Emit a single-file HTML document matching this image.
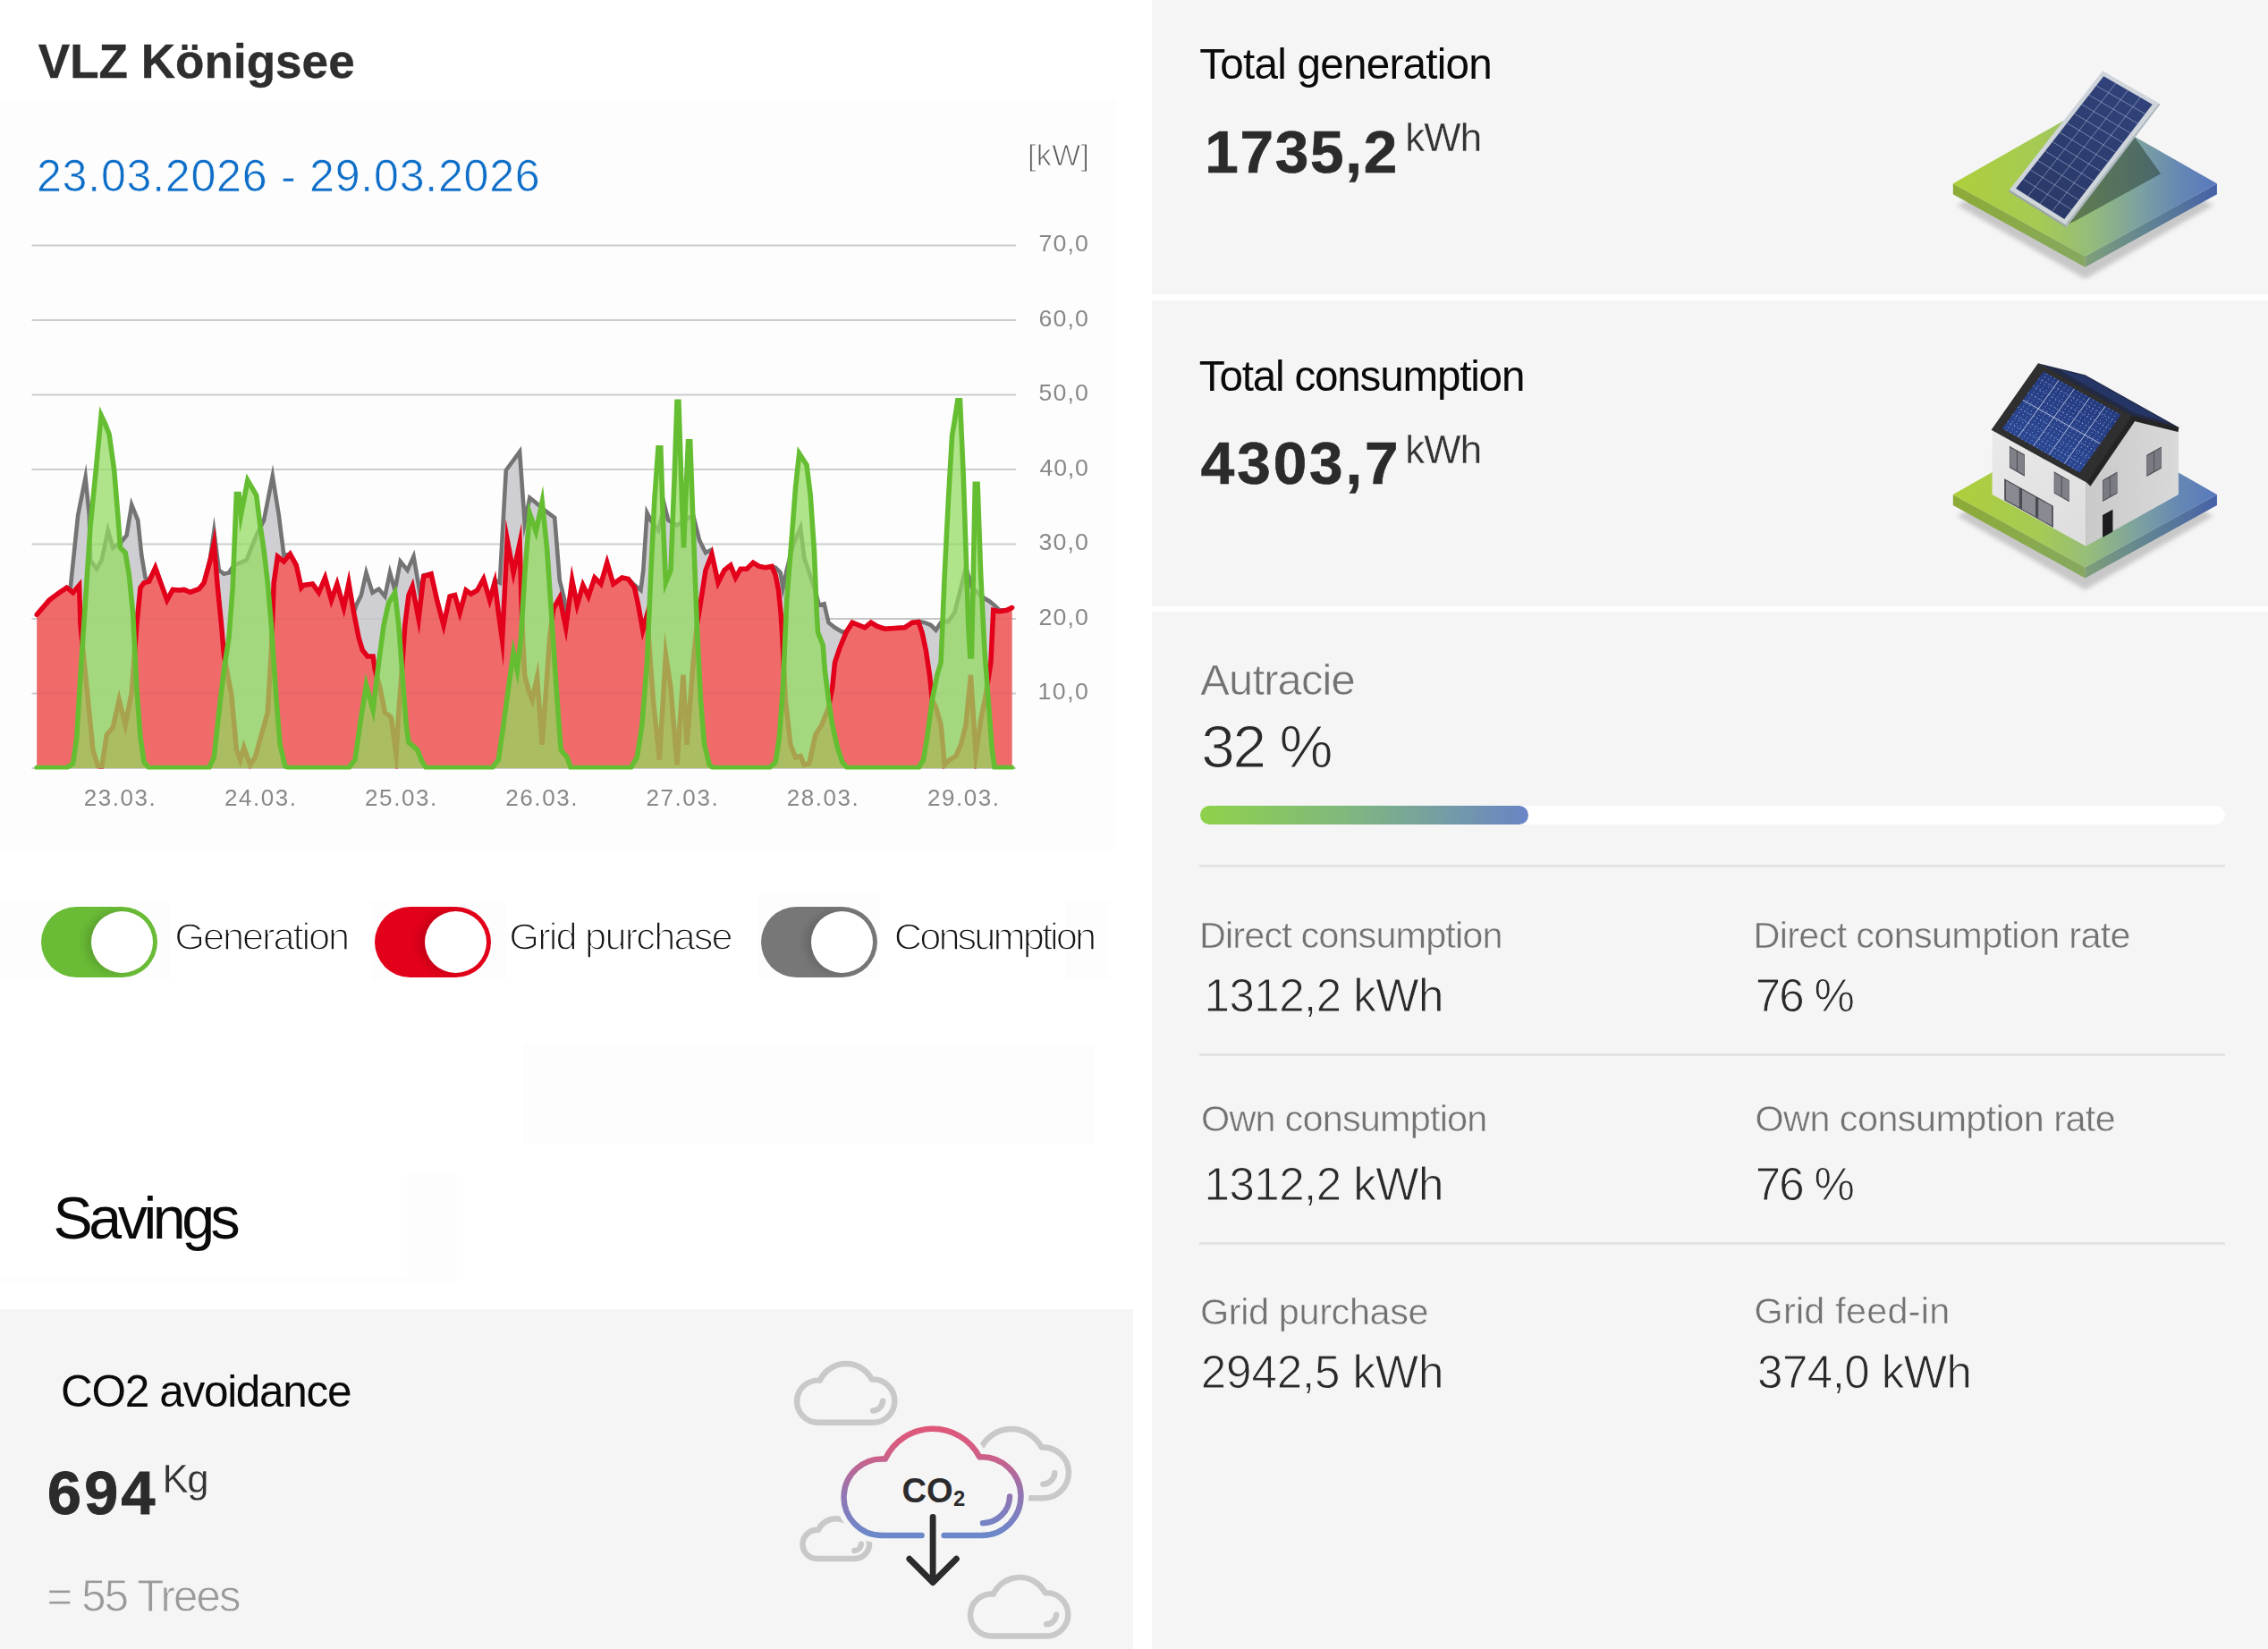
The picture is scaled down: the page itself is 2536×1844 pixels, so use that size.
<!DOCTYPE html>
<html lang="en"><head><meta charset="utf-8"><title>VLZ Königsee</title>
<style>
html,body{margin:0;padding:0}
body{width:2536px;height:1844px;position:relative;overflow:hidden;background:#fff;
 font-family:"Liberation Sans",sans-serif}
.abs{position:absolute}
.bg{position:absolute}
.t{position:absolute;white-space:nowrap;line-height:1;margin:0}
.tg{position:absolute;top:1013.5px;width:130px;height:79px;border-radius:40px}
.kn{position:absolute;right:5px;top:5px;width:69px;height:69px;border-radius:50%;background:#fff;box-shadow:-7px 0 9px rgba(0,0,0,.13)}
.tg{overflow:hidden}
.hr{position:absolute;left:1341px;width:1147px;height:3px;background:#e3e3e3}
</style></head>
<body>
<div class="bg" style="left:0;top:112px;width:1248px;height:838px;background:#fdfdfd"></div>
<div class="bg" style="left:1288px;top:0;width:1248px;height:329px;background:#f5f5f5"></div>
<div class="bg" style="left:1288px;top:336px;width:1248px;height:342px;background:#f5f5f5"></div>
<div class="bg" style="left:1288px;top:684px;width:1248px;height:1160px;background:#f5f5f5"></div>
<div class="bg" style="left:0;top:1464px;width:1267px;height:380px;background:#f5f5f5"></div>
<div class="bg" style="left:0px;top:1007px;width:190px;height:89px;background:#fdfdfd"></div><div class="bg" style="left:416px;top:1007px;width:150px;height:89px;background:#fdfdfd"></div><div class="bg" style="left:848px;top:1000px;width:136px;height:96px;background:#fdfdfd"></div><div class="bg" style="left:1192px;top:1007px;width:48px;height:89px;background:#fdfdfd"></div><div class="bg" style="left:584px;top:1166px;width:640px;height:114px;background:#fdfdfd"></div><div class="bg" style="left:455px;top:1313px;width:56px;height:124px;background:#fdfdfd"></div><div class="bg" style="left:0px;top:1425px;width:511px;height:12px;background:#fdfdfd"></div>
<svg class="abs" style="left:0;top:0" width="1268" height="950" viewBox="0 0 1268 950">
<g stroke="#cdcdcd" stroke-width="2"><line x1="35.5" x2="1136" y1="775.5" y2="775.5"/><line x1="35.5" x2="1136" y1="692.0" y2="692.0"/><line x1="35.5" x2="1136" y1="608.5" y2="608.5"/><line x1="35.5" x2="1136" y1="525.0" y2="525.0"/><line x1="35.5" x2="1136" y1="441.5" y2="441.5"/><line x1="35.5" x2="1136" y1="358.0" y2="358.0"/><line x1="35.5" x2="1136" y1="274.5" y2="274.5"/><line x1="35.5" x2="1136" y1="859" y2="859"/></g>
<defs><clipPath id="cc"><rect x="0" y="0" width="1268" height="860.4"/></clipPath><clipPath id="cr"><rect x="0" y="0" width="1268" height="859.4"/></clipPath></defs>
<g stroke-linejoin="miter" stroke-miterlimit="14" stroke-linecap="round" clip-path="url(#cc)">
<path d="M41.2 687.3 L55.1 671.1 L66.3 662.7 L74.6 657.2 L78.8 657.2 L87.2 576.2 L95.6 533.8 L99.8 576.2 L101.1 626.5 L108.1 636.2 L113.7 626.5 L120.7 593.0 L126.3 612.5 L136.0 605.5 L141.6 598.6 L147.2 564.5 L154.2 581.8 L158.3 620.9 L162.5 646.0 L166.7 648.8 L173.7 634.8 L180.7 654.4 L186.8 671.1 L193.2 659.4 L200.2 660.0 L205.8 659.4 L212.8 662.2 L222.5 658.6 L228.1 651.6 L235.1 623.7 L239.3 594.4 L244.8 637.6 L250.4 641.8 L256.0 640.4 L261.6 632.1 L275.5 626.5 L286.7 598.6 L295.1 581.8 L304.8 532.4 L311.8 576.2 L317.4 620.9 L324.4 619.5 L331.3 632.1 L336.9 657.2 L339.7 654.4 L344.0 653.8 L349.5 653.0 L356.5 662.7 L363.5 646.0 L370.5 671.1 L376.9 653.0 L384.4 679.5 L390.0 652.1 L395.6 685.1 L398.4 676.7 L403.9 665.5 L409.5 640.4 L416.5 662.7 L423.5 658.6 L430.4 666.9 L436.0 640.4 L441.6 660.0 L447.7 627.9 L455.6 637.6 L462.5 622.3 L469.5 662.7 L473.7 643.2 L482.1 641.8 L489.0 672.5 L496.0 699.0 L503.0 666.9 L508.6 665.5 L514.2 685.1 L521.1 660.0 L526.7 664.1 L533.7 660.0 L540.7 647.4 L547.6 671.1 L553.2 648.8 L558.8 651.6 L565.8 526.0 L581.1 505.1 L586.7 584.6 L592.3 556.7 L599.3 562.3 L609.0 570.7 L620.2 579.0 L625.8 648.8 L631.3 671.1 L632.7 701.8 L639.7 648.8 L645.3 676.7 L651.8 654.4 L657.9 666.9 L664.9 646.0 L671.9 653.0 L678.8 629.3 L685.8 653.0 L695.6 646.0 L702.5 647.4 L709.5 654.4 L716.5 660.0 L719.3 637.6 L723.5 573.5 L727.7 581.8 L736.0 593.0 L743.0 565.1 L747.2 581.8 L757.0 587.4 L775.1 576.2 L782.1 604.2 L789.0 618.1 L794.6 615.3 L796.0 619.8 L803.0 651.6 L810.0 637.6 L816.9 632.1 L822.5 646.0 L828.1 636.2 L835.1 636.2 L842.1 629.3 L849.0 633.4 L856.0 634.8 L863.0 633.4 L867.2 634.8 L872.7 640.4 L875.5 657.2 L879.7 637.6 L886.7 609.7 L895.1 590.2 L899.3 623.7 L904.8 640.4 L910.4 657.2 L916.0 676.7 L921.6 675.3 L926.5 696.2 L933.5 701.8 L941.9 706.8 L946.0 706.0 L953.0 696.2 L960.0 699.0 L967.0 701.8 L973.9 696.2 L980.9 700.4 L989.3 703.2 L1000.4 702.4 L1011.6 701.8 L1020.0 696.2 L1027.0 694.8 L1033.9 696.2 L1040.9 699.0 L1046.5 704.6 L1052.1 696.2 L1060.4 694.8 L1067.4 685.1 L1074.4 657.2 L1080.0 634.8 L1086.9 657.2 L1099.5 668.3 L1106.5 672.5 L1113.4 678.1 L1117.6 682.3 L1126.0 682.3 L1131.6 679.5 L1131.6 859.0 L41.2 859.0 Z" fill="#cfcfd3" stroke="none"/>
<path d="M41.2 687.3 L55.1 671.1 L66.3 662.7 L74.6 657.2 L78.8 657.2 L87.2 576.2 L95.6 533.8 L99.8 576.2 L101.1 626.5 L108.1 636.2 L113.7 626.5 L120.7 593.0 L126.3 612.5 L136.0 605.5 L141.6 598.6 L147.2 564.5 L154.2 581.8 L158.3 620.9 L162.5 646.0 L166.7 648.8 L173.7 634.8 L180.7 654.4 L186.8 671.1 L193.2 659.4 L200.2 660.0 L205.8 659.4 L212.8 662.2 L222.5 658.6 L228.1 651.6 L235.1 623.7 L239.3 594.4 L244.8 637.6 L250.4 641.8 L256.0 640.4 L261.6 632.1 L275.5 626.5 L286.7 598.6 L295.1 581.8 L304.8 532.4 L311.8 576.2 L317.4 620.9 L324.4 619.5 L331.3 632.1 L336.9 657.2 L339.7 654.4 L344.0 653.8 L349.5 653.0 L356.5 662.7 L363.5 646.0 L370.5 671.1 L376.9 653.0 L384.4 679.5 L390.0 652.1 L395.6 685.1 L398.4 676.7 L403.9 665.5 L409.5 640.4 L416.5 662.7 L423.5 658.6 L430.4 666.9 L436.0 640.4 L441.6 660.0 L447.7 627.9 L455.6 637.6 L462.5 622.3 L469.5 662.7 L473.7 643.2 L482.1 641.8 L489.0 672.5 L496.0 699.0 L503.0 666.9 L508.6 665.5 L514.2 685.1 L521.1 660.0 L526.7 664.1 L533.7 660.0 L540.7 647.4 L547.6 671.1 L553.2 648.8 L558.8 651.6 L565.8 526.0 L581.1 505.1 L586.7 584.6 L592.3 556.7 L599.3 562.3 L609.0 570.7 L620.2 579.0 L625.8 648.8 L631.3 671.1 L632.7 701.8 L639.7 648.8 L645.3 676.7 L651.8 654.4 L657.9 666.9 L664.9 646.0 L671.9 653.0 L678.8 629.3 L685.8 653.0 L695.6 646.0 L702.5 647.4 L709.5 654.4 L716.5 660.0 L719.3 637.6 L723.5 573.5 L727.7 581.8 L736.0 593.0 L743.0 565.1 L747.2 581.8 L757.0 587.4 L775.1 576.2 L782.1 604.2 L789.0 618.1 L794.6 615.3 L796.0 619.8 L803.0 651.6 L810.0 637.6 L816.9 632.1 L822.5 646.0 L828.1 636.2 L835.1 636.2 L842.1 629.3 L849.0 633.4 L856.0 634.8 L863.0 633.4 L867.2 634.8 L872.7 640.4 L875.5 657.2 L879.7 637.6 L886.7 609.7 L895.1 590.2 L899.3 623.7 L904.8 640.4 L910.4 657.2 L916.0 676.7 L921.6 675.3 L926.5 696.2 L933.5 701.8 L941.9 706.8 L946.0 706.0 L953.0 696.2 L960.0 699.0 L967.0 701.8 L973.9 696.2 L980.9 700.4 L989.3 703.2 L1000.4 702.4 L1011.6 701.8 L1020.0 696.2 L1027.0 694.8 L1033.9 696.2 L1040.9 699.0 L1046.5 704.6 L1052.1 696.2 L1060.4 694.8 L1067.4 685.1 L1074.4 657.2 L1080.0 634.8 L1086.9 657.2 L1099.5 668.3 L1106.5 672.5 L1113.4 678.1 L1117.6 682.3 L1126.0 682.3 L1131.6 679.5" fill="none" stroke="#747474" stroke-width="4.6" clip-path="url(#cr)"/>
<path d="M41.2 687.3 L55.1 671.1 L66.3 662.7 L74.6 657.2 L81.6 662.7 L88.6 654.4 L90.0 699.0 L97.0 768.8 L103.9 838.5 L109.5 856.7 L113.7 858.1 L119.3 821.8 L126.3 813.4 L133.2 782.7 L140.2 810.6 L147.2 774.4 L152.8 699.0 L157.0 657.2 L161.1 651.6 L166.7 650.2 L173.7 634.8 L180.7 654.4 L186.8 671.1 L193.2 659.4 L200.2 660.0 L205.8 659.4 L212.8 662.2 L222.5 658.6 L228.1 651.6 L235.1 626.5 L239.3 607.5 L243.4 657.2 L247.6 699.0 L250.4 732.5 L258.8 777.1 L264.4 838.5 L268.6 849.7 L272.7 835.7 L279.7 855.3 L285.3 846.9 L292.3 821.8 L299.3 796.7 L303.4 726.9 L306.2 651.6 L310.4 622.3 L317.4 627.9 L324.4 619.5 L331.3 632.1 L336.9 657.2 L339.7 654.4 L344.0 653.8 L349.5 653.0 L356.5 662.7 L363.5 646.0 L370.5 671.1 L376.9 653.0 L384.4 679.5 L390.0 652.1 L395.6 685.1 L401.1 713.0 L405.3 726.9 L410.9 733.9 L417.1 733.9 L419.3 749.2 L424.9 768.8 L430.4 796.7 L437.4 802.3 L443.0 844.1 L445.8 796.7 L450.0 740.9 L452.8 699.0 L457.0 665.5 L461.1 655.8 L468.1 692.0 L473.7 644.6 L482.1 641.8 L489.0 672.5 L496.0 699.0 L503.0 666.9 L508.6 665.5 L514.2 685.1 L521.1 660.0 L526.7 664.1 L533.7 660.0 L540.7 647.4 L547.6 671.1 L553.2 651.6 L557.4 685.1 L561.6 715.8 L567.2 603.6 L574.1 640.4 L581.1 607.5 L583.9 699.0 L586.7 754.8 L590.9 771.6 L595.1 782.7 L600.6 757.6 L606.2 832.9 L611.8 754.8 L614.6 713.0 L618.8 680.9 L625.8 668.3 L632.7 701.8 L639.7 648.8 L645.3 676.7 L651.8 654.4 L657.9 666.9 L664.9 646.0 L671.9 653.0 L678.8 629.3 L685.8 653.0 L695.6 646.0 L702.5 647.4 L709.5 657.2 L713.7 676.7 L718.7 704.6 L723.5 687.9 L726.3 726.9 L730.4 782.7 L737.4 849.7 L744.4 732.5 L750.0 768.8 L757.0 855.3 L763.9 754.8 L768.1 832.9 L775.1 740.9 L779.3 699.0 L782.1 682.3 L789.0 637.6 L796.0 619.8 L803.0 651.6 L810.0 637.6 L816.9 632.1 L822.5 646.0 L828.1 636.2 L835.1 636.2 L842.1 629.3 L849.0 633.4 L856.0 634.8 L863.0 633.4 L867.2 643.2 L870.5 660.0 L873.3 687.9 L875.5 726.9 L878.3 782.7 L883.9 832.9 L889.5 846.9 L895.1 845.5 L899.3 855.3 L904.8 853.9 L911.8 821.8 L918.8 810.6 L924.4 796.7 L926.5 791.1 L930.7 768.8 L933.5 740.9 L939.1 724.1 L946.0 707.4 L953.0 696.2 L960.0 699.0 L967.0 701.8 L973.9 696.2 L980.9 700.4 L989.3 703.2 L1000.4 702.4 L1011.6 701.8 L1020.0 696.2 L1027.0 695.7 L1031.1 707.4 L1035.3 726.9 L1039.5 754.8 L1042.3 782.7 L1046.5 791.1 L1052.1 810.6 L1056.2 855.3 L1061.8 849.7 L1068.8 845.5 L1074.4 832.9 L1080.0 810.6 L1085.5 754.8 L1091.1 844.1 L1096.7 805.0 L1102.3 777.1 L1107.9 740.9 L1110.7 682.3 L1117.6 683.7 L1126.0 682.3 L1131.6 679.5 L1131.6 859.0 L41.2 859.0 Z" fill="#f06a6a" stroke="none"/>
<g stroke="#000" stroke-opacity="0.03" stroke-width="2"><line x1="43" x2="1131" y1="775.5" y2="775.5"/><line x1="43" x2="1131" y1="692.0" y2="692.0"/></g>
<path d="M41.2 687.3 L55.1 671.1 L66.3 662.7 L74.6 657.2 L81.6 662.7 L88.6 654.4 L90.0 699.0 L97.0 768.8 L103.9 838.5 L109.5 856.7 L113.7 858.1 L119.3 821.8 L126.3 813.4 L133.2 782.7 L140.2 810.6 L147.2 774.4 L152.8 699.0 L157.0 657.2 L161.1 651.6 L166.7 650.2 L173.7 634.8 L180.7 654.4 L186.8 671.1 L193.2 659.4 L200.2 660.0 L205.8 659.4 L212.8 662.2 L222.5 658.6 L228.1 651.6 L235.1 626.5 L239.3 607.5 L243.4 657.2 L247.6 699.0 L250.4 732.5 L258.8 777.1 L264.4 838.5 L268.6 849.7 L272.7 835.7 L279.7 855.3 L285.3 846.9 L292.3 821.8 L299.3 796.7 L303.4 726.9 L306.2 651.6 L310.4 622.3 L317.4 627.9 L324.4 619.5 L331.3 632.1 L336.9 657.2 L339.7 654.4 L344.0 653.8 L349.5 653.0 L356.5 662.7 L363.5 646.0 L370.5 671.1 L376.9 653.0 L384.4 679.5 L390.0 652.1 L395.6 685.1 L401.1 713.0 L405.3 726.9 L410.9 733.9 L417.1 733.9 L419.3 749.2 L424.9 768.8 L430.4 796.7 L437.4 802.3 L443.0 844.1 L445.8 796.7 L450.0 740.9 L452.8 699.0 L457.0 665.5 L461.1 655.8 L468.1 692.0 L473.7 644.6 L482.1 641.8 L489.0 672.5 L496.0 699.0 L503.0 666.9 L508.6 665.5 L514.2 685.1 L521.1 660.0 L526.7 664.1 L533.7 660.0 L540.7 647.4 L547.6 671.1 L553.2 651.6 L557.4 685.1 L561.6 715.8 L567.2 603.6 L574.1 640.4 L581.1 607.5 L583.9 699.0 L586.7 754.8 L590.9 771.6 L595.1 782.7 L600.6 757.6 L606.2 832.9 L611.8 754.8 L614.6 713.0 L618.8 680.9 L625.8 668.3 L632.7 701.8 L639.7 648.8 L645.3 676.7 L651.8 654.4 L657.9 666.9 L664.9 646.0 L671.9 653.0 L678.8 629.3 L685.8 653.0 L695.6 646.0 L702.5 647.4 L709.5 657.2 L713.7 676.7 L718.7 704.6 L723.5 687.9 L726.3 726.9 L730.4 782.7 L737.4 849.7 L744.4 732.5 L750.0 768.8 L757.0 855.3 L763.9 754.8 L768.1 832.9 L775.1 740.9 L779.3 699.0 L782.1 682.3 L789.0 637.6 L796.0 619.8 L803.0 651.6 L810.0 637.6 L816.9 632.1 L822.5 646.0 L828.1 636.2 L835.1 636.2 L842.1 629.3 L849.0 633.4 L856.0 634.8 L863.0 633.4 L867.2 643.2 L870.5 660.0 L873.3 687.9 L875.5 726.9 L878.3 782.7 L883.9 832.9 L889.5 846.9 L895.1 845.5 L899.3 855.3 L904.8 853.9 L911.8 821.8 L918.8 810.6 L924.4 796.7 L926.5 791.1 L930.7 768.8 L933.5 740.9 L939.1 724.1 L946.0 707.4 L953.0 696.2 L960.0 699.0 L967.0 701.8 L973.9 696.2 L980.9 700.4 L989.3 703.2 L1000.4 702.4 L1011.6 701.8 L1020.0 696.2 L1027.0 695.7 L1031.1 707.4 L1035.3 726.9 L1039.5 754.8 L1042.3 782.7 L1046.5 791.1 L1052.1 810.6 L1056.2 855.3 L1061.8 849.7 L1068.8 845.5 L1074.4 832.9 L1080.0 810.6 L1085.5 754.8 L1091.1 844.1 L1096.7 805.0 L1102.3 777.1 L1107.9 740.9 L1110.7 682.3 L1117.6 683.7 L1126.0 682.3 L1131.6 679.5" fill="none" stroke="#e2001a" stroke-width="5.5" stroke-miterlimit="11" clip-path="url(#cr)"/>
<path d="M41.2 858.6 L74.6 858.6 L81.6 853.9 L85.8 824.6 L90.0 754.8 L95.6 671.1 L101.1 587.4 L106.7 531.6 L113.1 464.6 L117.9 474.7 L122.1 485.6 L127.7 526.0 L131.8 576.2 L134.6 612.5 L140.2 618.1 L144.4 643.2 L148.6 685.1 L152.8 768.8 L157.0 824.6 L161.1 852.5 L166.7 858.6 L233.7 858.6 L239.3 846.9 L244.8 796.7 L250.4 749.2 L256.0 713.0 L260.2 657.2 L263.0 587.4 L264.4 552.5 L267.2 552.5 L269.4 576.2 L276.9 537.2 L286.7 553.9 L290.9 587.4 L295.1 615.3 L299.3 651.6 L303.4 699.0 L309.0 782.7 L313.2 832.9 L318.8 856.7 L323.0 858.6 L390.0 858.6 L397.0 849.7 L402.5 810.6 L409.5 766.0 L417.1 793.9 L423.5 740.9 L429.1 699.0 L434.6 673.9 L441.6 662.7 L445.8 699.0 L450.0 754.8 L454.2 810.6 L457.0 830.2 L466.7 838.5 L472.3 852.5 L476.5 858.6 L550.4 858.6 L557.4 849.7 L563.0 810.6 L568.6 768.8 L574.1 729.7 L578.3 749.2 L582.5 713.0 L586.7 643.2 L592.3 574.0 L599.3 594.4 L606.2 561.2 L611.8 615.3 L617.4 699.0 L623.0 782.7 L627.2 838.5 L634.1 846.9 L638.3 858.6 L645.3 858.6 L705.3 858.6 L712.3 846.9 L717.9 810.6 L723.5 740.9 L727.7 643.2 L731.8 559.5 L736.0 500.9 L738.8 500.9 L741.6 587.4 L744.4 651.6 L750.0 637.6 L754.2 531.6 L757.0 449.3 L758.9 449.3 L762.5 559.5 L764.5 612.5 L766.7 559.5 L769.5 493.9 L771.7 493.9 L775.1 587.4 L779.3 699.0 L783.5 782.7 L787.6 832.9 L793.2 855.3 L797.4 858.6 L860.2 858.6 L867.2 852.5 L871.4 824.6 L875.5 768.8 L879.7 671.1 L885.3 601.4 L889.5 545.6 L893.7 507.1 L902.0 519.9 L906.2 553.9 L910.4 615.3 L913.2 685.1 L914.6 707.4 L920.2 721.3 L922.3 749.2 L926.5 782.7 L930.7 810.6 L936.3 835.7 L941.9 852.5 L947.4 858.6 L1027.0 858.6 L1032.5 849.7 L1036.7 824.6 L1042.3 782.7 L1047.9 754.8 L1052.1 740.9 L1056.2 643.2 L1060.4 559.5 L1064.6 487.0 L1067.4 470.2 L1070.8 447.9 L1073.5 447.9 L1077.2 531.6 L1080.0 615.3 L1082.8 699.0 L1084.7 733.9 L1086.4 733.9 L1088.3 643.2 L1090.3 541.4 L1093.1 541.4 L1096.7 643.2 L1100.9 726.9 L1105.1 782.7 L1109.3 838.5 L1112.1 858.1 L1131.6 858.6 L1131.6 859.0 L41.2 859.0 Z" fill="#93da61" fill-opacity="0.74" stroke="none"/>
<path d="M41.2 858.6 L74.6 858.6 L81.6 853.9 L85.8 824.6 L90.0 754.8 L95.6 671.1 L101.1 587.4 L106.7 531.6 L113.1 464.6 L117.9 474.7 L122.1 485.6 L127.7 526.0 L131.8 576.2 L134.6 612.5 L140.2 618.1 L144.4 643.2 L148.6 685.1 L152.8 768.8 L157.0 824.6 L161.1 852.5 L166.7 858.6 L233.7 858.6 L239.3 846.9 L244.8 796.7 L250.4 749.2 L256.0 713.0 L260.2 657.2 L263.0 587.4 L264.4 552.5 L267.2 552.5 L269.4 576.2 L276.9 537.2 L286.7 553.9 L290.9 587.4 L295.1 615.3 L299.3 651.6 L303.4 699.0 L309.0 782.7 L313.2 832.9 L318.8 856.7 L323.0 858.6 L390.0 858.6 L397.0 849.7 L402.5 810.6 L409.5 766.0 L417.1 793.9 L423.5 740.9 L429.1 699.0 L434.6 673.9 L441.6 662.7 L445.8 699.0 L450.0 754.8 L454.2 810.6 L457.0 830.2 L466.7 838.5 L472.3 852.5 L476.5 858.6 L550.4 858.6 L557.4 849.7 L563.0 810.6 L568.6 768.8 L574.1 729.7 L578.3 749.2 L582.5 713.0 L586.7 643.2 L592.3 574.0 L599.3 594.4 L606.2 561.2 L611.8 615.3 L617.4 699.0 L623.0 782.7 L627.2 838.5 L634.1 846.9 L638.3 858.6 L645.3 858.6 L705.3 858.6 L712.3 846.9 L717.9 810.6 L723.5 740.9 L727.7 643.2 L731.8 559.5 L736.0 500.9 L738.8 500.9 L741.6 587.4 L744.4 651.6 L750.0 637.6 L754.2 531.6 L757.0 449.3 L758.9 449.3 L762.5 559.5 L764.5 612.5 L766.7 559.5 L769.5 493.9 L771.7 493.9 L775.1 587.4 L779.3 699.0 L783.5 782.7 L787.6 832.9 L793.2 855.3 L797.4 858.6 L860.2 858.6 L867.2 852.5 L871.4 824.6 L875.5 768.8 L879.7 671.1 L885.3 601.4 L889.5 545.6 L893.7 507.1 L902.0 519.9 L906.2 553.9 L910.4 615.3 L913.2 685.1 L914.6 707.4 L920.2 721.3 L922.3 749.2 L926.5 782.7 L930.7 810.6 L936.3 835.7 L941.9 852.5 L947.4 858.6 L1027.0 858.6 L1032.5 849.7 L1036.7 824.6 L1042.3 782.7 L1047.9 754.8 L1052.1 740.9 L1056.2 643.2 L1060.4 559.5 L1064.6 487.0 L1067.4 470.2 L1070.8 447.9 L1073.5 447.9 L1077.2 531.6 L1080.0 615.3 L1082.8 699.0 L1084.7 733.9 L1086.4 733.9 L1088.3 643.2 L1090.3 541.4 L1093.1 541.4 L1096.7 643.2 L1100.9 726.9 L1105.1 782.7 L1109.3 838.5 L1112.1 858.1 L1131.6 858.6" fill="none" stroke="#65be31" stroke-width="5.6"/>
</g>
</svg>
<div class="tg" style="left:45.5px;background:#6abb36"><div class="kn"></div></div><div class="tg" style="left:418.5px;background:#e2001a"><div class="kn"></div></div><div class="tg" style="left:850.5px;background:#777777"><div class="kn"></div></div>
<div class="bg" style="left:1341.5px;top:901px;width:1146px;height:21px;border-radius:11px;background:#fff"></div>
<div class="bg" style="left:1341.5px;top:901px;width:367px;height:21px;border-radius:11px;background:linear-gradient(90deg,#8fd24a 0%,#80b77e 45%,#6a84c6 100%)"></div>
<div class="hr" style="top:966.5px"></div>
<div class="hr" style="top:1178px"></div>
<div class="hr" style="top:1389px"></div>
<svg class="abs" style="left:2160px;top:50px" width="340" height="280" viewBox="0 0 2002 1649">

<defs>
<linearGradient id="sptop" x1="140" x2="1878" y1="0" y2="0" gradientUnits="userSpaceOnUse">
<stop offset="0" stop-color="#aecf3a"/><stop offset="0.33" stop-color="#a5ca55"/><stop offset="0.52" stop-color="#95bc7b"/>
<stop offset="0.7" stop-color="#7da2a0"/><stop offset="0.86" stop-color="#6587b4"/><stop offset="1" stop-color="#5879bd"/>
</linearGradient>
<linearGradient id="spls" x1="140" x2="1010" y1="0" y2="0" gradientUnits="userSpaceOnUse">
<stop offset="0" stop-color="#8dab36"/><stop offset="1" stop-color="#86a860"/>
</linearGradient>
<linearGradient id="sprs" x1="1010" x2="1878" y1="0" y2="0" gradientUnits="userSpaceOnUse">
<stop offset="0" stop-color="#7f9f78"/><stop offset="0.5" stop-color="#5f8294"/><stop offset="1" stop-color="#4761a8"/>
</linearGradient>
<filter id="spbl" x="-20%" y="-20%" width="140%" height="140%"><feGaussianBlur stdDeviation="17"/></filter>
</defs>
<polygon points="165,1055 1010,1543 1855,1055 1010,665" fill="#000" fill-opacity="0.19" filter="url(#spbl)"/>
<polygon points="140,915 1010,1395 1010,1465 140,985" fill="url(#spls)"/>
<polygon points="1010,1395 1878,915 1878,985 1010,1465" fill="url(#sprs)"/>
<polygon points="140,915 1010,420 1878,915 1010,1395" fill="url(#sptop)"/>

<polygon points="1335,608 1508,850 945,1160 885,1188" fill="#2c4034" fill-opacity="0.55"/>
<polygon points="512,955 880,1185 886,1203 506,968" fill="#9aa4ad"/>
<polygon points="880,1185 1495,385 1503,395 886,1203" fill="#aeb7bf"/>
<polygon points="1125,172 1495,385 880,1185 512,955" fill="#cfd5da"/>
<defs><linearGradient id="spn" x1="1300" y1="250" x2="700" y2="1050" gradientUnits="userSpaceOnUse">
<stop offset="0" stop-color="#30427a"/><stop offset="1" stop-color="#2a3968"/></linearGradient></defs>
<polygon points="1132,208 1453,393 873,1149 554,947" fill="url(#spn)"/>
<g stroke="#b9c8e2" stroke-opacity="0.75" stroke-width="4"><line x1="1212" y1="254" x2="634" y2="998"/><line x1="1292" y1="300" x2="714" y2="1048"/><line x1="1373" y1="347" x2="793" y2="1098"/><line x1="1084" y1="270" x2="1405" y2="456"/><line x1="1036" y1="331" x2="1356" y2="519"/><line x1="988" y1="393" x2="1308" y2="582"/><line x1="939" y1="454" x2="1260" y2="645"/><line x1="891" y1="516" x2="1211" y2="708"/><line x1="843" y1="578" x2="1163" y2="771"/><line x1="795" y1="639" x2="1115" y2="834"/><line x1="747" y1="701" x2="1066" y2="897"/><line x1="698" y1="762" x2="1018" y2="960"/><line x1="650" y1="824" x2="970" y2="1023"/><line x1="602" y1="885" x2="921" y2="1086"/></g>
</svg>
<svg class="abs" style="left:2160px;top:390px" width="340" height="280" viewBox="0 0 2002 1649">

<defs>
<linearGradient id="hptop" x1="140" x2="1878" y1="0" y2="0" gradientUnits="userSpaceOnUse">
<stop offset="0" stop-color="#aecf3a"/><stop offset="0.33" stop-color="#a5ca55"/><stop offset="0.52" stop-color="#95bc7b"/>
<stop offset="0.7" stop-color="#7da2a0"/><stop offset="0.86" stop-color="#6587b4"/><stop offset="1" stop-color="#5879bd"/>
</linearGradient>
<linearGradient id="hpls" x1="140" x2="1010" y1="0" y2="0" gradientUnits="userSpaceOnUse">
<stop offset="0" stop-color="#8dab36"/><stop offset="1" stop-color="#86a860"/>
</linearGradient>
<linearGradient id="hprs" x1="1010" x2="1878" y1="0" y2="0" gradientUnits="userSpaceOnUse">
<stop offset="0" stop-color="#7f9f78"/><stop offset="0.5" stop-color="#5f8294"/><stop offset="1" stop-color="#4761a8"/>
</linearGradient>
<filter id="hpbl" x="-20%" y="-20%" width="140%" height="140%"><feGaussianBlur stdDeviation="17"/></filter>
</defs>
<polygon points="165,1100 1010,1588 1855,1100 1010,710" fill="#000" fill-opacity="0.19" filter="url(#hpbl)"/>
<polygon points="140,960 1010,1440 1010,1510 140,1030" fill="url(#hpls)"/>
<polygon points="1010,1440 1878,960 1878,1030 1010,1510" fill="url(#hprs)"/>
<polygon points="140,960 1010,465 1878,960 1010,1440" fill="url(#hptop)"/>

<defs>
<linearGradient id="hlw" x1="398" x2="1015" y1="600" y2="1200" gradientUnits="userSpaceOnUse">
<stop offset="0" stop-color="#e9e9ea"/><stop offset="1" stop-color="#dededf"/></linearGradient>
<linearGradient id="hrw" x1="1015" x2="1625" y1="0" y2="0" gradientUnits="userSpaceOnUse">
<stop offset="0" stop-color="#c9c9ca"/><stop offset="1" stop-color="#d9d9da"/></linearGradient>
<linearGradient id="hsol" x1="1000" y1="250" x2="700" y2="750" gradientUnits="userSpaceOnUse">
<stop offset="0" stop-color="#243a7e"/><stop offset="1" stop-color="#2c4994"/></linearGradient>
</defs>
<polygon points="398,540 1015,870 1015,1300 398,960" fill="url(#hlw)"/>
<polygon points="1015,870 1315,440 1625,520 1625,960 1015,1300" fill="url(#hrw)"/>
<polygon points="512,640 612,697 612,840 512,783" fill="#4a4b50"/><polygon points="515,649 559,674 559,803 515,778" fill="#808188"/><polygon points="565,677 609,702 609,831 565,806" fill="#808188"/><polygon points="805,808 905,865 905,1008 805,951" fill="#4a4b50"/><polygon points="808,817 852,842 852,971 808,946" fill="#808188"/><polygon points="858,845 902,870 902,999 858,974" fill="#808188"/><polygon points="478,855 800,1035 800,1178 478,998" fill="#4a4b50"/><polygon points="488,868 576,917 576,1045 488,996" fill="#8a8b92"/><polygon points="595,928 683,977 683,1105 595,1056" fill="#8a8b92"/><polygon points="702,988 790,1037 790,1165 702,1116" fill="#8a8b92"/><polygon points="1125,865 1222,810 1222,952 1125,1007" fill="#4a4b50"/><polygon points="1128,870 1171,846 1171,974 1128,998" fill="#7a7b82"/><polygon points="1176,843 1219,819 1219,947 1176,971" fill="#7a7b82"/><polygon points="1415,700 1512,645 1512,787 1415,842" fill="#4a4b50"/><polygon points="1418,705 1461,681 1461,809 1418,833" fill="#7a7b82"/><polygon points="1466,678 1509,654 1509,782 1466,806" fill="#7a7b82"/>
<polygon points="1125,1095 1192,1058 1192,1205 1125,1242" fill="#1d1d1f"/>
<polygon points="700,95 1010,172 1628,518 1600,540 1315,452" fill="#222a45"/>
<polygon points="830,135 1010,180 1560,488 1330,420" fill="#253566"/>
<polygon points="700,95 1315,440 1348,462 1045,905 1020,880" fill="#242424"/>
<polygon points="1315,440 1628,518 1622,548 1340,478" fill="#242424"/>
<polygon points="700,95 1318,440 1022,882 392,535" fill="#2f2f30"/>
<polygon points="735,150 1245,435 975,815 465,525" fill="url(#hsol)"/>
<g stroke="#a9c0f0" stroke-opacity="0.7" stroke-width="6" stroke-dasharray="7 17"><line x1="760" y1="164" x2="490" y2="540"/><line x1="786" y1="178" x2="516" y2="554"/><line x1="812" y1="193" x2="542" y2="568"/><line x1="862" y1="221" x2="592" y2="598"/><line x1="888" y1="236" x2="618" y2="612"/><line x1="914" y1="250" x2="644" y2="626"/><line x1="964" y1="278" x2="694" y2="656"/><line x1="990" y1="292" x2="720" y2="670"/><line x1="1016" y1="307" x2="746" y2="684"/><line x1="1066" y1="335" x2="796" y2="714"/><line x1="1092" y1="350" x2="822" y2="728"/><line x1="1118" y1="364" x2="848" y2="742"/><line x1="1168" y1="392" x2="898" y2="772"/><line x1="1194" y1="406" x2="924" y2="786"/><line x1="1220" y1="421" x2="950" y2="800"/><line x1="701" y1="197" x2="1211" y2="482"/><line x1="668" y1="244" x2="1178" y2="530"/><line x1="634" y1="291" x2="1144" y2="578"/><line x1="566" y1="384" x2="1076" y2="672"/><line x1="532" y1="431" x2="1042" y2="720"/><line x1="499" y1="478" x2="1009" y2="768"/></g>
<g stroke="#eef3ff" stroke-opacity="0.95" stroke-width="4.5"><line x1="837" y1="207" x2="567" y2="583"/><line x1="939" y1="264" x2="669" y2="641"/><line x1="1041" y1="321" x2="771" y2="699"/><line x1="1143" y1="378" x2="873" y2="757"/><line x1="600" y1="338" x2="1110" y2="625"/></g>
</svg>
<svg class="abs" style="left:860px;top:1500px" width="380" height="344" viewBox="0 0 1822 1649">
<defs><linearGradient id="cg" x1="0" x2="0" y1="455" y2="1040" gradientUnits="userSpaceOnUse">
<stop offset="0" stop-color="#df5779"/><stop offset="0.25" stop-color="#d15f85"/><stop offset="0.6" stop-color="#9474b0"/><stop offset="1" stop-color="#6b88cb"/></linearGradient></defs>
<g fill="none" stroke="#c9c9c9" stroke-width="31" stroke-linecap="round" stroke-linejoin="round"><path d="M262.8 434.6 A112.8 112.8 0 1 1 272.4 209.5 A155.1 155.1 0 0 1 550.6 203.8 A115.5 115.5 0 1 1 557.0 434.6 Z"/><path d="M609.8 320.2 A55.0 55.0 0 0 1 557.0 371.4"/><path d="M1122.6 840.1 A132.6 132.6 0 1 1 1133.9 575.3 A182.5 182.5 0 0 1 1461.3 568.6 A135.9 135.9 0 1 1 1468.8 840.1 Z"/><path d="M1530.9 705.5 A64.7 64.7 0 0 1 1468.8 765.7"/><path d="M256.9 1164.5 A76.9 76.9 0 1 1 263.4 1011.0 A105.8 105.8 0 0 1 453.2 1007.1 A78.8 78.8 0 1 1 457.5 1164.5 Z"/><path d="M493.5 1086.5 A37.5 37.5 0 0 1 457.5 1121.4"/><path d="M1192.8 1579.6 A112.8 112.8 0 1 1 1202.4 1354.5 A155.1 155.1 0 0 1 1480.6 1348.8 A115.5 115.5 0 1 1 1487.0 1579.6 Z"/><path d="M1539.8 1465.2 A55.0 55.0 0 0 1 1487.0 1516.3"/></g>
<path d="M605.0 1040.0 A205.0 205.0 0 1 1 622.5 630.7 A282.0 282.0 0 0 1 1128.4 620.3 A210.0 210.0 0 1 1 1140.0 1040.0 Z" fill="#f5f5f5" stroke="#f5f5f5" stroke-width="84" stroke-linejoin="round"/>
<g fill="none" stroke="url(#cg)" stroke-width="31" stroke-linecap="round" stroke-linejoin="round">
<path d="M818.0 1040.0 H605.0 A205.0 205.0 0 1 1 622.5 630.7 A282.0 282.0 0 0 1 1128.4 620.3 A210.0 210.0 0 1 1 1140.0 1040.0 H938.0"/>
<path d="M1290 832 A146 146 0 0 1 1146 974"/>
</g>
<g fill="none" stroke="#2b2b2d" stroke-width="33" stroke-linecap="round" stroke-linejoin="round">
<path d="M878 942 V1288"/><path d="M752 1166 L878 1292 L1004 1166"/>
</g>
<text x="712" y="862" font-family="'Liberation Sans',sans-serif" font-weight="700" font-size="190" fill="#2b2b2d" textLength="274" lengthAdjust="spacingAndGlyphs">CO</text>
<text x="988" y="881" font-family="'Liberation Sans',sans-serif" font-weight="700" font-size="114" fill="#2b2b2d">2</text>
</svg>
<div id="txt" style="position:absolute;left:0;top:0;width:2536px;height:1844px;will-change:transform">
<header>
<h1 class="t" style="left:42.8px;top:42.0px;font-size:53.0px;letter-spacing:0.04px;color:#2e2e2e;font-weight:700;-webkit-text-stroke:0.4px #2e2e2e;">VLZ Königsee</h1>
</header>
<section aria-label="Power chart">
<div class="t" style="left:41.0px;top:171.6px;font-size:50.1px;letter-spacing:0.76px;color:#0f6fc8;-webkit-text-stroke:0.7px #fdfdfd;">23.03.2026 - 29.03.2026</div>
<div class="t" style="left:1149.0px;top:157.0px;font-size:33.8px;letter-spacing:0.44px;color:#5a5a5a;-webkit-text-stroke:1.0px #fdfdfd;">[kW]</div>
<div class="t" style="left:1161.6px;top:259.1px;font-size:26.7px;letter-spacing:1.10px;color:#888888;">70,0</div>
<div class="t" style="left:1161.6px;top:342.6px;font-size:26.7px;letter-spacing:1.10px;color:#888888;">60,0</div>
<div class="t" style="left:1161.6px;top:426.2px;font-size:26.7px;letter-spacing:1.10px;color:#888888;">50,0</div>
<div class="t" style="left:1162.6px;top:509.7px;font-size:26.7px;letter-spacing:0.77px;color:#888888;">40,0</div>
<div class="t" style="left:1161.6px;top:593.3px;font-size:26.7px;letter-spacing:1.10px;color:#888888;">30,0</div>
<div class="t" style="left:1161.6px;top:676.8px;font-size:26.7px;letter-spacing:1.10px;color:#888888;">20,0</div>
<div class="t" style="left:1160.6px;top:760.3px;font-size:26.7px;letter-spacing:1.43px;color:#888888;">10,0</div>
<div class="t" style="left:93.7px;top:878.6px;font-size:26.0px;letter-spacing:1.57px;color:#888888;">23.03.</div>
<div class="t" style="left:250.9px;top:878.6px;font-size:26.0px;letter-spacing:1.57px;color:#888888;">24.03.</div>
<div class="t" style="left:408.1px;top:878.6px;font-size:26.0px;letter-spacing:1.57px;color:#888888;">25.03.</div>
<div class="t" style="left:565.3px;top:878.6px;font-size:26.0px;letter-spacing:1.57px;color:#888888;">26.03.</div>
<div class="t" style="left:722.5px;top:878.6px;font-size:26.0px;letter-spacing:1.57px;color:#888888;">27.03.</div>
<div class="t" style="left:879.7px;top:878.6px;font-size:26.0px;letter-spacing:1.57px;color:#888888;">28.03.</div>
<div class="t" style="left:1036.9px;top:878.6px;font-size:26.0px;letter-spacing:1.57px;color:#888888;">29.03.</div>
</section>
<section aria-label="Legend">
<div class="t" style="left:195.3px;top:1026.1px;font-size:43.4px;letter-spacing:-2.09px;color:#161616;-webkit-text-stroke:1.5px #fff;">Generation</div>
<div class="t" style="left:569.3px;top:1026.1px;font-size:43.4px;letter-spacing:-1.84px;color:#161616;-webkit-text-stroke:1.5px #fff;">Grid purchase</div>
<div class="t" style="left:999.8px;top:1026.1px;font-size:43.4px;letter-spacing:-2.93px;color:#161616;-webkit-text-stroke:1.5px #fff;">Consumption</div>
</section>
<section aria-label="Savings">
<h2 class="t" style="left:59.6px;top:1328.9px;font-size:66.3px;letter-spacing:-4.45px;color:#0a0a0a;font-weight:400;">Savings</h2>
<div class="t" style="left:68.0px;top:1531.1px;font-size:49.5px;letter-spacing:-1.31px;color:#0a0a0a;">CO2 avoidance</div>
<div class="t" style="left:53.1px;top:1635.3px;font-size:68.2px;letter-spacing:3.28px;color:#2b2b2b;font-weight:700;-webkit-text-stroke:1.0px #2b2b2b;">694</div>
<div class="t" style="left:181.4px;top:1632.4px;font-size:43.7px;letter-spacing:-1.24px;color:#333333;-webkit-text-stroke:0.3px #f5f5f5;">Kg</div>
<div class="t" style="left:52.6px;top:1760.9px;font-size:49.1px;letter-spacing:-1.82px;color:#9a9a9a;-webkit-text-stroke:0.8px #f5f5f5;">= 55 Trees</div>
</section>
<section aria-label="Total generation">
<div class="t" style="left:1341.3px;top:47.5px;font-size:47.6px;letter-spacing:-0.75px;color:#0a0a0a;">Total generation</div>
<div class="t" style="left:1347.3px;top:135.9px;font-size:67.5px;letter-spacing:1.72px;color:#2b2b2b;font-weight:700;-webkit-text-stroke:0.7px #2b2b2b;">1735,2</div>
<div class="t" style="left:1571.2px;top:132.3px;font-size:43.7px;letter-spacing:-0.79px;color:#333333;-webkit-text-stroke:0.3px #f5f5f5;">kWh</div>
</section>
<section aria-label="Total consumption">
<div class="t" style="left:1340.8px;top:397.0px;font-size:47.6px;letter-spacing:-1.19px;color:#0a0a0a;">Total consumption</div>
<div class="t" style="left:1342.8px;top:484.4px;font-size:67.5px;letter-spacing:2.88px;color:#2b2b2b;font-weight:700;-webkit-text-stroke:0.7px #2b2b2b;">4303,7</div>
<div class="t" style="left:1571.2px;top:480.8px;font-size:43.7px;letter-spacing:-0.79px;color:#333333;-webkit-text-stroke:0.3px #f5f5f5;">kWh</div>
</section>
<section aria-label="Statistics">
<div class="t" style="left:1342.3px;top:736.3px;font-size:48.8px;letter-spacing:-0.80px;color:#727272;-webkit-text-stroke:0.6px #f5f5f5;">Autracie</div>
<div class="t" style="left:1343.2px;top:801.0px;font-size:67.5px;letter-spacing:-2.21px;color:#2a2a2a;-webkit-text-stroke:1.2px #f5f5f5;">32 %</div>
<div class="t" style="left:1341.0px;top:1025.7px;font-size:41.4px;letter-spacing:-0.87px;color:#727272;-webkit-text-stroke:0.5px #f5f5f5;">Direct consumption</div>
<div class="t" style="left:1346.6px;top:1087.9px;font-size:51.1px;letter-spacing:-0.54px;color:#2a2a2a;-webkit-text-stroke:0.9px #f5f5f5;">1312,2 kWh</div>
<div class="t" style="left:1960.5px;top:1026.2px;font-size:41.4px;letter-spacing:-0.68px;color:#727272;-webkit-text-stroke:0.5px #f5f5f5;">Direct consumption rate</div>
<div class="t" style="left:1962.7px;top:1087.8px;font-size:51.1px;letter-spacing:-1.74px;color:#2a2a2a;-webkit-text-stroke:0.9px #f5f5f5;">76 %</div>
<div class="t" style="left:1343.0px;top:1231.2px;font-size:41.4px;letter-spacing:-0.78px;color:#727272;-webkit-text-stroke:0.5px #f5f5f5;">Own consumption</div>
<div class="t" style="left:1346.6px;top:1299.3px;font-size:51.1px;letter-spacing:-0.54px;color:#2a2a2a;-webkit-text-stroke:0.9px #f5f5f5;">1312,2 kWh</div>
<div class="t" style="left:1962.5px;top:1231.2px;font-size:41.4px;letter-spacing:-0.57px;color:#727272;-webkit-text-stroke:0.5px #f5f5f5;">Own consumption rate</div>
<div class="t" style="left:1962.7px;top:1299.0px;font-size:51.1px;letter-spacing:-1.74px;color:#2a2a2a;-webkit-text-stroke:0.9px #f5f5f5;">76 %</div>
<div class="t" style="left:1342.0px;top:1446.5px;font-size:41.4px;letter-spacing:-0.37px;color:#727272;-webkit-text-stroke:0.5px #f5f5f5;">Grid purchase</div>
<div class="t" style="left:1342.8px;top:1509.4px;font-size:51.1px;letter-spacing:-0.12px;color:#2a2a2a;-webkit-text-stroke:0.9px #f5f5f5;">2942,5 kWh</div>
<div class="t" style="left:1961.5px;top:1446.3px;font-size:41.4px;letter-spacing:0.23px;color:#727272;-webkit-text-stroke:0.5px #f5f5f5;">Grid feed-in</div>
<div class="t" style="left:1965.0px;top:1509.4px;font-size:51.1px;letter-spacing:-0.54px;color:#2a2a2a;-webkit-text-stroke:0.9px #f5f5f5;">374,0 kWh</div>
</section>
</div>
</body></html>
